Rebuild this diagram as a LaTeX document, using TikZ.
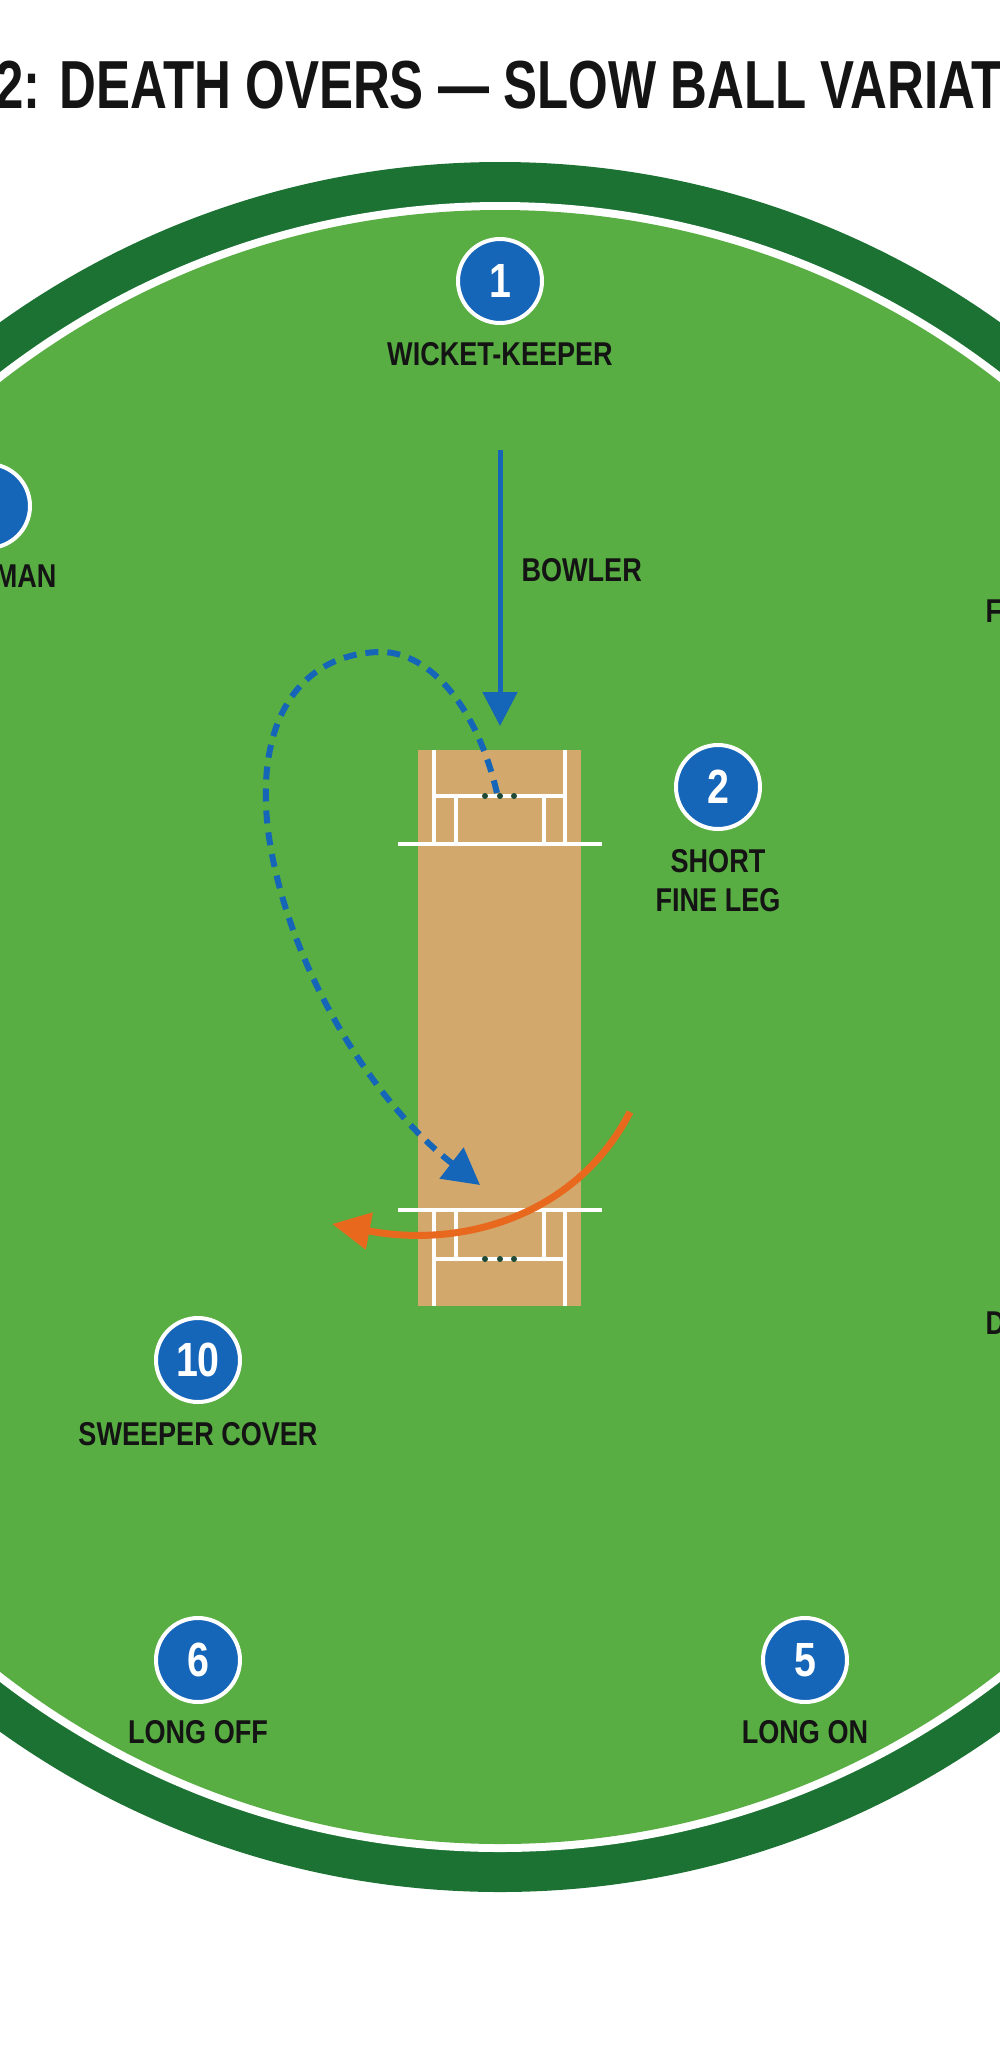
\documentclass[tikz,border=0pt]{standalone}
\usepackage{fontspec}
\setmainfont{Liberation Sans}
\newfontfamily\cond{Liberation Sans}[FakeStretch=0.82]
\newfontfamily\condt{Liberation Sans}[FakeStretch=0.75]
\usetikzlibrary{arrows.meta}
\definecolor{grass}{HTML}{58AE42}
\definecolor{ring}{HTML}{1B7232}
\definecolor{fblue}{HTML}{1565B8}
\definecolor{forange}{HTML}{E8681E}
\definecolor{pitchc}{HTML}{D3A86C}
\definecolor{ink}{HTML}{141414}
\definecolor{stump}{HTML}{1F4A36}
\begin{document}
\begin{tikzpicture}[x=1pt,y=-1pt,
  fielder/.style={circle,fill=fblue,draw=white,line width=4pt,minimum size=84pt,inner sep=0pt,text=white,font=\cond\bfseries\fontsize{48}{48}\selectfont},
  lbl/.style={anchor=base,text=ink,font=\cond\bfseries\fontsize{33}{36}\selectfont},
  crease/.style={draw=white,line width=4pt},
  stumpdot/.style={circle,fill=stump,inner sep=0pt,minimum size=6pt}]
\useasboundingbox (0,0) rectangle (1000,2048);
\clip (0,0) rectangle (1000,2048);
\fill[white] (0,0) rectangle (1000,2048);
% title
\node[anchor=base west,inner sep=0pt,text=ink,font=\condt\bfseries\fontsize{68}{70}\selectfont] (title) at (-5,108) {2: DEATH OVERS — SLOW BALL VARIAT};
% field
\fill[ring] (500,1027) ellipse [x radius=862, y radius=865];
\fill[white] (500,1027) ellipse [x radius=822, y radius=825];
\fill[grass] (500,1027) ellipse [x radius=814, y radius=817];
% pitch
\fill[pitchc] (418,750) rectangle (581,1306);
\draw[crease] (398,844) -- (602,844);
\draw[crease] (434,750) -- (434,844) (565,750) -- (565,844);
\draw[crease] (434,796) -- (565,796);
\draw[crease] (456,796) -- (456,844) (544,796) -- (544,844);
\draw[crease] (398,1210) -- (602,1210);
\draw[crease] (434,1210) -- (434,1306) (565,1210) -- (565,1306);
\draw[crease] (434,1259) -- (565,1259);
\draw[crease] (456,1210) -- (456,1259) (544,1210) -- (544,1259);
\node[stumpdot] (s1) at (485,796) {}; \node[stumpdot] (s2) at (500,796) {}; \node[stumpdot] (s3) at (514,796) {};
\node[stumpdot] (t1) at (485,1259) {}; \node[stumpdot] (t2) at (500,1259) {}; \node[stumpdot] (t3) at (514,1259) {};
% fielders
\node[fielder] (f1) at (500,281) {1};
\node[lbl] (l1) at (500,365) {WICKET-KEEPER};
\node[fielder] (fl) at (-12,506) {};
\node[lbl,anchor=base east] (ll) at (60,587) {MAN};
\node[fielder] (f2) at (718,787) {2};
\node[lbl] (l2a) at (718,872) {SHORT};
\node[lbl] (l2b) at (718,911) {FINE LEG};
\node[fielder] (f10) at (198,1360) {10};
\node[lbl] (l10) at (198,1445) {SWEEPER COVER};
\node[fielder] (f6) at (198,1660) {6};
\node[lbl] (l6) at (198,1743) {LONG OFF};
\node[fielder] (f5) at (805,1660) {5};
\node[lbl] (l5) at (805,1743) {LONG ON};
\node[lbl,anchor=base west] (lf) at (982,622) {F};
\node[lbl,anchor=base west] (ld) at (982,1334) {D};
\node[lbl,anchor=base west] (lb) at (518,581) {BOWLER};
% bowler run
\coordinate (runA) at (500,450);
\coordinate (runB) at (500,726);
\draw[fblue,line width=5pt,-{Triangle[width=34pt,length=34pt]}] (runA) -- (runB);
% slow ball path
\coordinate (pA) at (497,793);
\coordinate (pB) at (480,1185);
\draw[fblue,line width=6pt,dash pattern=on 13pt off 9pt,-{Triangle[width=38pt,length=36pt]}]
  (pA) .. controls (475,700) and (425,650) .. (378,652)
  .. controls (300,655) and (255,720) .. (268,830)
  .. controls (285,960) and (370,1100) .. (pB);
% shot
\coordinate (oA) at (630,1112);
\coordinate (oB) at (332,1224);
\draw[forange,line width=7pt,-{Triangle[width=36pt,length=38pt]}]
  (oA) .. controls (580,1210) and (470,1250) .. (oB);
\end{tikzpicture}
\end{document}
